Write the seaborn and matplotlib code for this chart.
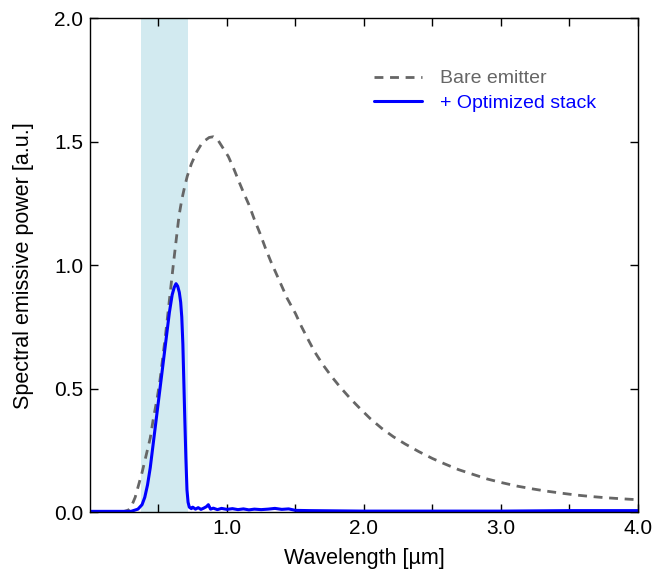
import matplotlib
matplotlib.use("Agg")
import matplotlib.pyplot as plt
import seaborn as sns

# Bare emitter (dashed grey)
bare_x = [0.0, 0.20, 0.25, 0.28, 0.30, 0.33, 0.35, 0.38, 0.41, 0.44, 0.46, 0.49,
          0.51, 0.53, 0.55, 0.57, 0.59, 0.61, 0.633, 0.65, 0.67, 0.69, 0.71, 0.74,
          0.78, 0.81, 0.84, 0.87, 0.90, 0.93, 0.97, 1.01, 1.05, 1.09, 1.12, 1.16,
          1.20, 1.24, 1.28, 1.32, 1.36, 1.40, 1.44, 1.50, 1.545, 1.595, 1.64, 1.70,
          1.765, 1.825, 1.90, 1.97, 2.045, 2.13, 2.215, 2.30, 2.40, 2.50, 2.59, 2.69,
          2.80, 2.90, 3.00, 3.12, 3.23, 3.33, 3.45, 3.55, 3.66, 3.77, 3.88, 4.00]
bare_y = [0.0, 0.0, 0.003, 0.008, 0.02, 0.06, 0.10, 0.16, 0.23, 0.30, 0.37, 0.46,
          0.53, 0.62, 0.71, 0.81, 0.91, 1.01, 1.12, 1.20, 1.265, 1.315, 1.36, 1.41,
          1.46, 1.487, 1.505, 1.517, 1.52, 1.51, 1.475, 1.44, 1.39, 1.335, 1.295, 1.245,
          1.185, 1.13, 1.07, 1.015, 0.965, 0.915, 0.865, 0.804, 0.75, 0.696, 0.649, 0.597,
          0.548, 0.507, 0.46, 0.42, 0.379, 0.339, 0.305, 0.276, 0.245, 0.217, 0.195, 0.172,
          0.152, 0.134, 0.12, 0.105, 0.094, 0.085, 0.076, 0.069, 0.063, 0.058, 0.054, 0.050]

# Emitter + optimized stack (solid blue)
stack_x = [0.0, 0.30, 0.35, 0.38, 0.40, 0.42, 0.44, 0.46, 0.48, 0.50, 0.52, 0.54,
           0.56, 0.58, 0.60, 0.615, 0.628, 0.64, 0.652, 0.662, 0.67, 0.678, 0.685,
           0.692, 0.70, 0.708, 0.716, 0.725,
           0.74, 0.75, 0.77, 0.79, 0.81, 0.83, 0.85, 0.864, 0.88, 0.90, 0.93, 0.96,
           1.00, 1.04, 1.08, 1.12, 1.16, 1.20, 1.25, 1.30, 1.35, 1.40, 1.45, 1.50,
           1.60, 1.80, 2.00, 2.50, 3.00, 3.50, 4.00]
stack_y = [0.003, 0.003, 0.012, 0.03, 0.06, 0.11, 0.18, 0.27, 0.36, 0.45, 0.54, 0.63,
           0.72, 0.81, 0.88, 0.91, 0.925, 0.915, 0.89, 0.85, 0.79, 0.68, 0.53,
           0.38, 0.22, 0.09, 0.04, 0.02,
           0.014, 0.02, 0.012, 0.018, 0.011, 0.016, 0.022, 0.03, 0.012, 0.016, 0.01, 0.015,
           0.011, 0.014, 0.01, 0.013, 0.009, 0.012, 0.01, 0.012, 0.015, 0.011, 0.013, 0.007,
           0.006, 0.005, 0.004, 0.004, 0.004, 0.006, 0.006]

band = (0.375, 0.715)
x_ticks = [0.5, 1.0, 1.5, 2.0, 2.5, 3.0, 3.5, 4.0]
y_ticks = [0.0, 0.5, 1.0, 1.5, 2.0]

sns.set_style("ticks")
plt.rcParams["font.family"] = ["Liberation Sans", "DejaVu Sans"]
plt.rcParams["text.color"] = "black"
plt.rcParams["axes.labelcolor"] = "black"

fig = plt.figure(figsize=(6.52, 5.69), dpi=100)
ax = fig.add_axes([0.138, 0.10, 0.8405, 0.868])

ax.axvspan(band[0], band[1], color="#d2eaf0", lw=0, zorder=0)

sns.lineplot(x=bare_x, y=bare_y, ax=ax, color="#666666", lw=2,
             linestyle=(0, (3.2, 2.4)), label="Bare emitter", sort=False, estimator=None)
sns.lineplot(x=stack_x, y=stack_y, ax=ax, color="#0000ff", lw=2.2,
             label="+ Optimized stack", sort=False, estimator=None)

ax.set_xlim(0, 4.0)
ax.set_ylim(0, 2.0)
ax.set_xticks(x_ticks)
ax.set_xticklabels([f"{t:.1f}" if t % 1 == 0 else "" for t in x_ticks])
ax.set_yticks(y_ticks)
ax.set_yticklabels([f"{t:.1f}" for t in y_ticks])
ax.tick_params(direction="in", length=6, width=1, top=True, right=True,
               labelsize=15, pad=5, colors="black")
for s in ax.spines.values():
    s.set_visible(True)
    s.set_linewidth(1)
    s.set_color("black")

ax.set_xlabel("Wavelength [µm]", fontsize=15.5, labelpad=7)
ax.set_ylabel("Spectral emissive power [a.u.]", fontsize=15.5, labelpad=14)

leg = ax.legend(loc="upper right", bbox_to_anchor=(0.955, 0.931), frameon=False,
                fontsize=14, handlelength=2.5, handletextpad=0.9, labelspacing=0.35)
for txt, c in zip(leg.get_texts(), ["#666666", "#0000ff"]):
    txt.set_color(c)

fig.savefig("out.png", dpi=100)
